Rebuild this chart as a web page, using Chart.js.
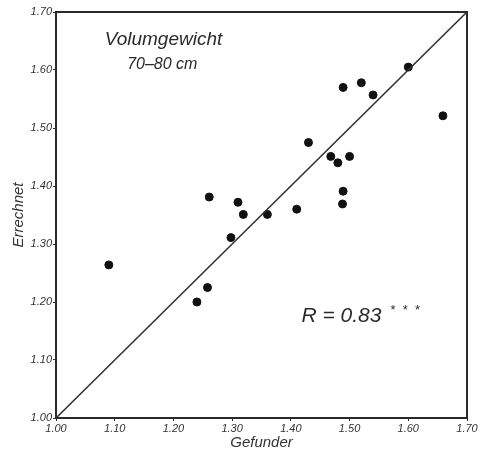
<!DOCTYPE html>
<html>
<head>
<meta charset="utf-8">
<script src="https://cdn.jsdelivr.net/npm/chart.js@4"></script>
<style>
  html, body { margin: 0; padding: 0; background: #fff; }
  #wrap { width: 482px; height: 449px; }
</style>
</head>
<body>
<div id="wrap"><canvas id="c" width="482" height="449"></canvas></div>
<script>
// Volume weight, 70–80 cm: measured (Gefunden) vs. calculated (Errechnet)
const gefunden  = [1.09, 1.24, 1.258, 1.261, 1.298, 1.31, 1.319, 1.36, 1.41, 1.43,
                   1.468, 1.48, 1.50, 1.489, 1.488, 1.489, 1.52, 1.54, 1.60, 1.659];
const errechnet = [1.264, 1.200, 1.225, 1.381, 1.311, 1.372, 1.351, 1.351, 1.360, 1.475,
                   1.451, 1.440, 1.451, 1.391, 1.369, 1.570, 1.578, 1.557, 1.605, 1.521];
const axisRange = [1.00, 1.70];
const tickStep = 0.10;
const titleLines = ['Volumgewicht', '70–80 cm'];
const rText = 'R = 0.83';
const rStars = '*  *  *';

const ink = '#2a2a2a';
const labelFont = 'Liberation Sans, DejaVu Sans, sans-serif';

const points = gefunden.map((g, i) => ({ x: g, y: errechnet[i] }));
const diagonal = [{ x: axisRange[0], y: axisRange[0] }, { x: axisRange[1], y: axisRange[1] }];

// frame on all four sides plus the annotation texts
const framePlugin = {
  id: 'frame',
  afterDatasetsDraw(chart) {
    const { ctx, chartArea: a, scales: { x, y } } = chart;
    ctx.save();
    ctx.strokeStyle = ink;
    ctx.lineWidth = 2;
    ctx.strokeRect(a.left, a.top, a.right - a.left, a.bottom - a.top);

    ctx.fillStyle = ink;
    ctx.textAlign = 'center';
    ctx.textBaseline = 'middle';
    ctx.font = 'italic 19px ' + labelFont;
    ctx.fillText(titleLines[0], x.getPixelForValue(1.183), y.getPixelForValue(1.652));
    ctx.font = 'italic 16px ' + labelFont;
    ctx.fillText(titleLines[1], x.getPixelForValue(1.181), y.getPixelForValue(1.609));

    ctx.textAlign = 'left';
    ctx.font = 'italic 21px ' + labelFont;
    const rx = x.getPixelForValue(1.418), ry = y.getPixelForValue(1.175);
    ctx.fillText(rText, rx, ry);
    const w = ctx.measureText(rText).width;
    ctx.font = '13px ' + labelFont;
    ctx.fillText(rStars, rx + w + 9, ry - 6);
    ctx.restore();
  }
};

new Chart(document.getElementById('c'), {
  data: {
    datasets: [
      {
        type: 'line',
        data: diagonal,
        borderColor: '#333',
        borderWidth: 1.6,
        pointRadius: 0,
        fill: false
      },
      {
        type: 'scatter',
        data: points,
        backgroundColor: '#111',
        borderColor: '#111',
        pointRadius: 4,
        pointHoverRadius: 4
      }
    ]
  },
  options: {
    responsive: false,
    animation: false,
    layout: { padding: { top: 12, right: 15, left: 0, bottom: 0 } },
    plugins: { legend: { display: false }, tooltip: { enabled: false } },
    scales: {
      x: {
        type: 'linear',
        min: axisRange[0], max: axisRange[1],
        afterFit(s) { s.height = 31; },
        border: { display: true, color: ink, width: 2 },
        grid: { display: true, drawOnChartArea: false, drawTicks: true, tickLength: 3, color: ink },
        ticks: {
          stepSize: tickStep,
          padding: 1,
          color: '#333',
          font: { family: labelFont, size: 11, style: 'italic' },
          callback: v => Number(v).toFixed(2)
        },
        title: {
          display: true, text: 'Gefunder', color: '#333',
          font: { family: labelFont, size: 15, style: 'italic' },
          padding: { top: 0, bottom: -3 }
        }
      },
      y: {
        type: 'linear',
        min: axisRange[0], max: axisRange[1],
        afterFit(s) { s.width = 56; },
        border: { display: true, color: ink, width: 2 },
        grid: { display: true, drawOnChartArea: false, drawTicks: true, tickLength: 3, color: ink },
        ticks: {
          stepSize: tickStep,
          padding: 1,
          color: '#333',
          font: { family: labelFont, size: 11, style: 'italic' },
          callback: v => Number(v).toFixed(2)
        },
        title: {
          display: true, text: 'Errechnet', color: '#333',
          font: { family: labelFont, size: 15, style: 'italic' },
          padding: { top: 10, bottom: 2 }
        }
      }
    }
  },
  plugins: [framePlugin]
});
</script>
</body>
</html>
